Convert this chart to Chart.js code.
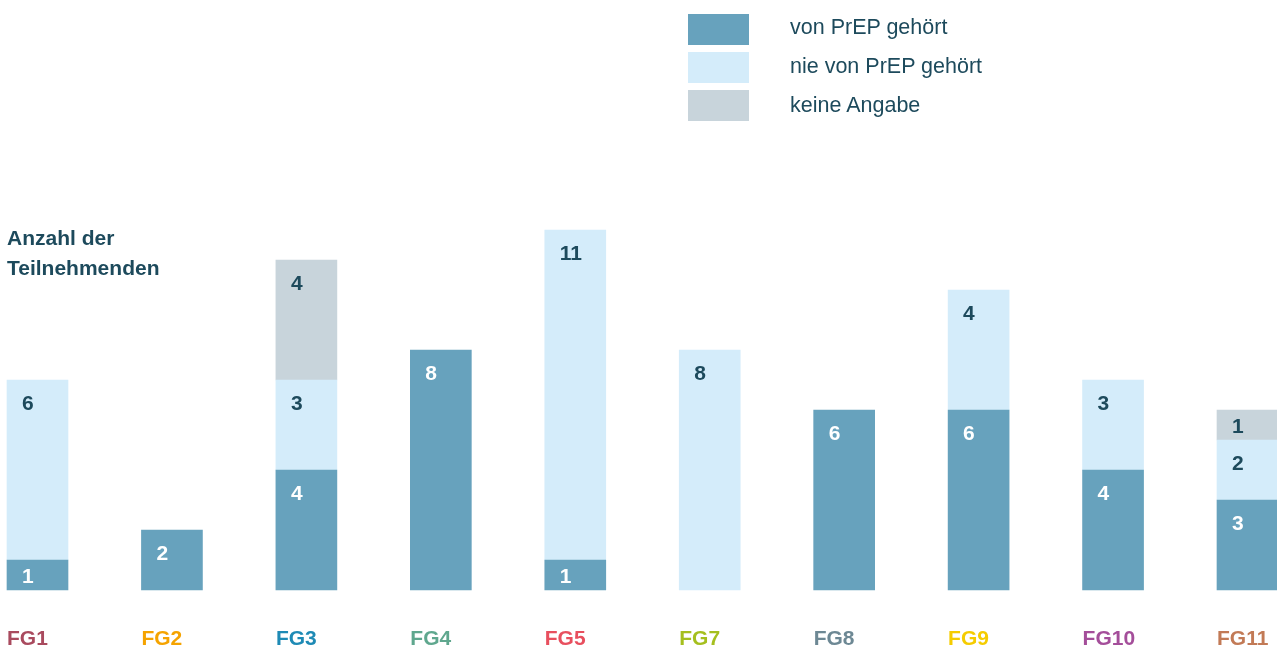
<!DOCTYPE html>
<html>
<head>
<meta charset="utf-8">
<script src="https://cdn.jsdelivr.net/npm/chart.js@4"></script>
<style>
  body { margin: 0; background: #fff; font-family: "Liberation Sans", Arial, sans-serif; }
  #wrap { position: relative; width: 1277px; height: 648px; }
  #chart { position: absolute; left: 0; top: 0; }
  #title { position: absolute; left: 7px; top: 223px; font-weight: bold; font-size: 21px; line-height: 30px; color: #1d4a5c; }
  #legendBoxes { position: absolute; left: 688px; top: 14px; }
  .box { width: 61px; height: 31px; margin-bottom: 7px; }
  #legendLabels { position: absolute; left: 790px; top: 8px; font-size: 21.5px; line-height: 39px; color: #1d4a5c; white-space: nowrap; }
</style>
</head>
<body>
<div id="wrap">
  <canvas id="chart" width="1277" height="648"></canvas>
  <div id="title">Anzahl der<br>Teilnehmenden</div>
  <div id="legendBoxes"></div>
  <div id="legendLabels"></div>
</div>
<script>
const categories = ["FG1", "FG2", "FG3", "FG4", "FG5", "FG7", "FG8", "FG9", "FG10", "FG11"];
const categoryColors = ["#a94a5e", "#f5a300", "#1e8ab5", "#5fa78e", "#e84f5e", "#a5bf1e", "#6d8894", "#f5cc00", "#a44e9a", "#c27a56"];
const seriesNames = ["von PrEP gehört", "nie von PrEP gehört", "keine Angabe"];
const seriesColors = ["#67a2bd", "#d4ecfa", "#c8d4db"];
const vonPrep = [1, 2, 4, 8, 1, 0, 6, 6, 4, 3];
const nieVonPrep = [6, 0, 3, 0, 11, 8, 0, 4, 3, 2];
const keineAngabe = [0, 0, 4, 0, 0, 0, 0, 0, 0, 1];

const textDark = "#1d4a5c";

// legend as plain html
const boxesEl = document.getElementById("legendBoxes");
const labelsEl = document.getElementById("legendLabels");
seriesNames.forEach((name, i) => {
  const box = document.createElement("div");
  box.className = "box";
  box.style.background = seriesColors[i];
  boxesEl.appendChild(box);
  const lab = document.createElement("div");
  lab.textContent = name;
  labelsEl.appendChild(lab);
});

const valueLabels = {
  id: "valueLabels",
  afterDatasetsDraw(chart) {
    const ctx = chart.ctx;
    ctx.save();
    ctx.font = "bold 21px 'Liberation Sans', Arial, sans-serif";
    ctx.textAlign = "left";
    ctx.textBaseline = "middle";
    chart.data.datasets.forEach((ds, di) => {
      const meta = chart.getDatasetMeta(di);
      meta.data.forEach((bar, i) => {
        const v = ds.data[i];
        if (!v) return;
        const h = bar.base - bar.y;
        const left = bar.x - bar.width / 2;
        ctx.fillStyle = di === 0 ? "#ffffff" : textDark;
        ctx.fillText(String(v), left + 15, bar.y + Math.min(24, h / 2 + 2));
      });
    });
    ctx.restore();
  }
};

const datasets = [vonPrep, nieVonPrep, keineAngabe].map((arr, i) => ({
  label: seriesNames[i],
  data: arr.map((v) => (v === 0 ? null : v)),
  backgroundColor: seriesColors[i],
  borderWidth: 0,
  barThickness: 61,
  clip: false,
}));

new Chart(document.getElementById("chart").getContext("2d"), {
  type: "bar",
  data: { labels: categories, datasets: datasets },
  options: {
    responsive: false,
    animation: false,
    layout: {
      padding: { left: 37.5, right: 29.5, top: 230, bottom: 0 },
    },
    plugins: {
      legend: { display: false },
      tooltip: { enabled: false },
    },
    scales: {
      x: {
        stacked: true,
        offset: false,
        grid: { display: false, drawTicks: false },
        border: { display: false },
        ticks: {
          color: categoryColors,
          padding: 37,
          align: "start",
          labelOffset: -30.5,
          maxRotation: 0,
          autoSkip: false,
          font: { family: "'Liberation Sans', Arial, sans-serif", size: 21, weight: "bold" },
        },
        afterFit: (scale) => {
          // keep the plot edges fixed, labels may overhang
          scale.height = 58;
          scale.paddingLeft = 0;
          scale.paddingRight = 0;
        },
      },
      y: {
        stacked: true,
        display: false,
        min: 0,
        max: 12,
      },
    },
  },
  plugins: [valueLabels],
});
</script>
</body>
</html>
